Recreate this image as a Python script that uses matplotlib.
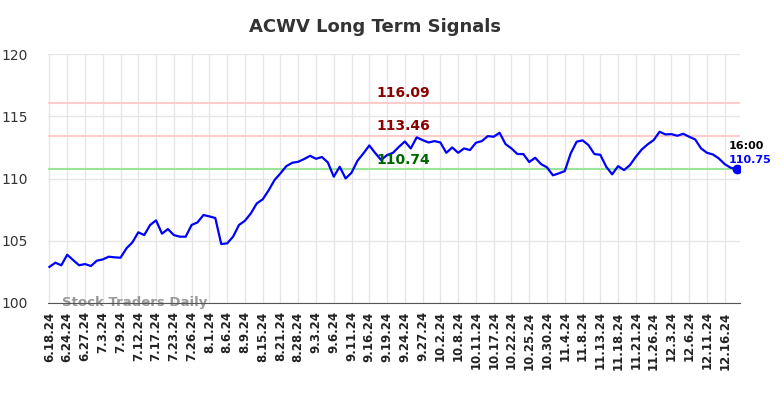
import matplotlib
matplotlib.use("Agg")
import matplotlib.pyplot as plt

title = "ACWV Long Term Signals"
tick_labels = ["6.18.24", "6.24.24", "6.27.24", "7.3.24", "7.9.24", "7.12.24", "7.17.24",
               "7.23.24", "7.26.24", "8.1.24", "8.6.24", "8.9.24", "8.15.24", "8.21.24",
               "8.28.24", "9.3.24", "9.6.24", "9.11.24", "9.16.24", "9.19.24", "9.24.24",
               "9.27.24", "10.2.24", "10.8.24", "10.11.24", "10.17.24", "10.22.24",
               "10.25.24", "10.30.24", "11.4.24", "11.8.24", "11.13.24", "11.18.24",
               "11.21.24", "11.26.24", "12.3.24", "12.6.24", "12.11.24", "12.16.24"]
prices = [102.9, 103.24, 103.03, 103.88, 103.45, 103.03, 103.13, 102.97, 103.4, 103.5,
          103.72, 103.67, 103.64, 104.39, 104.87, 105.68, 105.46, 106.27, 106.64, 105.57,
          105.94, 105.46, 105.33, 105.33, 106.27, 106.48, 107.07, 106.96, 106.83, 104.74,
          104.79, 105.33, 106.27, 106.61, 107.2, 108.0, 108.33, 109.05, 109.88, 110.42,
          111.0, 111.27, 111.35, 111.57, 111.83, 111.59, 111.73, 111.30, 110.15, 110.95,
          110.01, 110.47, 111.43, 112.02, 112.66, 112.05, 111.49, 111.89, 112.07, 112.55,
          112.98, 112.42, 113.31, 113.09, 112.9, 113.01, 112.9, 112.07, 112.5, 112.07,
          112.42, 112.29, 112.88, 113.01, 113.41, 113.36, 113.68, 112.77, 112.42, 111.97,
          111.97, 111.33, 111.67, 111.16, 110.9, 110.26, 110.42, 110.6, 112.02, 112.96,
          113.07, 112.69, 111.97, 111.91, 110.95, 110.34, 111.0, 110.68, 111.08, 111.75,
          112.34, 112.75, 113.09, 113.76, 113.55, 113.57, 113.44, 113.6, 113.36, 113.15,
          112.43, 112.07, 111.94, 111.62, 111.16, 110.87, 110.75]
resistance_levels = [116.09, 113.46]
support_levels = [110.74]
last_time = "16:00"
last_price = 110.75
watermark = "Stock Traders Daily"

fig = plt.figure(figsize=(7.84, 3.98), dpi=100)
ax = fig.add_axes([0.0608, 0.2387, 0.8832, 0.6253])

x = list(range(len(prices)))
ax.plot(x, prices, color="#0000ff", lw=1.6, zorder=3)
ax.plot([x[-1]], [last_price], "o", color="#0000ff", ms=6, zorder=4)

for lv in resistance_levels:
    ax.axhline(lv, color="#ffcccc", lw=1.5, zorder=2)
for lv in support_levels:
    ax.axhline(lv, color="#99e699", lw=1.5, zorder=2)

label_x = 59.7
for lv in resistance_levels:
    ax.text(label_x, lv + 0.2, f"{lv:.2f}", color="#8b0000", fontsize=10,
            fontweight="bold", ha="center", va="bottom", zorder=5)
for lv in support_levels:
    ax.text(label_x, lv + 0.2, f"{lv:.2f}", color="#006400", fontsize=10,
            fontweight="bold", ha="center", va="bottom", zorder=5)

ax.text(x[-1] + 1.7, last_price + 1.86, last_time, color="black", fontsize=8,
        fontweight="bold", ha="center", va="center")
ax.text(x[-1] + 2.3, last_price + 0.74, f"{last_price:.2f}", color="#0000ff", fontsize=8,
        fontweight="bold", ha="center", va="center")

ax.text(0.02, 0.0, watermark, transform=ax.transAxes, color="#999999", fontsize=9.5,
        fontweight="bold", ha="left", va="center", zorder=1)

ax.set_xlim(-0.3, len(prices) - 0.4)
ax.set_ylim(100, 120)
ax.set_yticks([100, 105, 110, 115, 120])
ticks = list(range(0, 3 * len(tick_labels), 3))
ax.set_xticks(ticks)
ax.set_xticklabels(tick_labels, rotation=90, fontsize=8.5, fontweight="bold", color="#222222")
ax.tick_params(axis="y", labelsize=10, colors="#333333", length=0, pad=14)
ax.tick_params(axis="x", length=0, pad=6)
ax.grid(True, color="#e6e6e6", lw=1)
ax.set_axisbelow(True)
for s in ["top", "right", "left"]:
    ax.spines[s].set_visible(False)
ax.spines["bottom"].set_color("#555555")

fig.suptitle(title, x=0.478, y=0.955, fontsize=13, fontweight="bold", color="#333333")
fig.savefig("out.png", dpi=100)
